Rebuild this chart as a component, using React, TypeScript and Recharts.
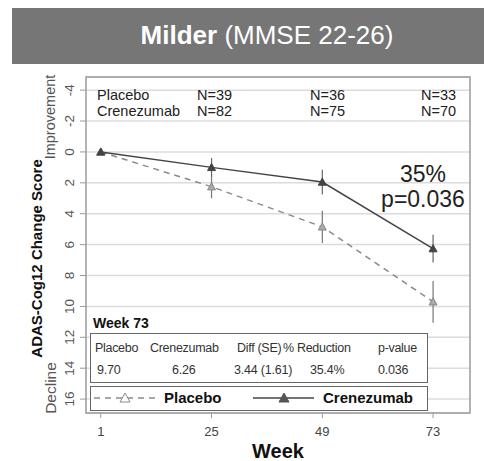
import {
  ComposedChart,
  Line,
  XAxis,
  YAxis,
  CartesianGrid,
  ErrorBar,
  ReferenceArea,
  Label,
  Legend,
} from "recharts";

const weeks = [1, 25, 49, 73];
const placeboMean = [0, 2.25, 4.85, 9.7];
const placeboSE = [0, 0.75, 1.05, 1.35];
const crenezumabMean = [0, 1.0, 1.95, 6.26];
const crenezumabSE = [0, 0.6, 0.8, 0.9];

const placeboN = ["N=39", "N=36", "N=33"];
const crenezumabN = ["N=82", "N=75", "N=70"];

const yTicks = [-4, -2, 0, 2, 4, 6, 8, 10, 12, 14, 16];
const xTicks = [1, 25, 49, 73];

const week73Header = ["Placebo", "Crenezumab", "Diff (SE)", "% Reduction", "p-value"];
const week73Values = ["9.70", "6.26", "3.44 (1.61)", "35.4%", "0.036"];

const xDomain = [-2.2, 81];
const yDomain = [-4.85, 16.9];

const data = weeks.map((w, i) => ({
  week: w,
  placebo: placeboMean[i],
  placeboErr: placeboSE[i],
  crenezumab: crenezumabMean[i],
  crenezumabErr: crenezumabSE[i],
}));

const FONT = "'Liberation Sans', Arial, sans-serif";

function Tri(props: any) {
  const { cx, cy, fill, stroke, size = 4 } = props;
  if (cx == null || cy == null) return null;
  const d = `M${cx},${cy - size} L${cx + size},${cy + size * 0.8} L${cx - size},${cy + size * 0.8} Z`;
  return <path d={d} fill={fill} stroke={stroke} strokeWidth={1} />;
}

function YTick(props: any) {
  const { x, y, payload } = props;
  const cx = x - 8;
  return (
    <text
      x={cx}
      y={y}
      transform={`rotate(-90, ${cx}, ${y})`}
      textAnchor="middle"
      dominantBaseline="central"
      fill="#555"
      fontSize={13.5}
      fontFamily={FONT}
    >
      {payload.value}
    </text>
  );
}

function YLabels(props: any) {
  const vb = props.viewBox || {};
  const top = vb.y ?? 77;
  const h = vb.height ?? 336;
  const items = [
    { text: "ADAS-Cog12 Change Score", x: 37, y: top + h * 0.54, bold: true, size: 15, color: "#111" },
    { text: "Improvement", x: 50, y: top + 40, bold: false, size: 14.5, color: "#555" },
    { text: "Decline", x: 50, y: top + 311, bold: false, size: 15.5, color: "#555" },
  ];
  return (
    <g>
      {items.map((it) => (
        <text
          key={it.text}
          x={it.x}
          y={it.y}
          transform={`rotate(-90, ${it.x}, ${it.y})`}
          textAnchor="middle"
          dominantBaseline="central"
          fontWeight={it.bold ? "bold" : "normal"}
          fontSize={it.size}
          fill={it.color}
          fontFamily={FONT}
        >
          {it.text}
        </text>
      ))}
    </g>
  );
}

function LegendBox() {
  return (
    <div
      style={{
        position: "relative",
        width: 338,
        height: 25,
        boxSizing: "border-box",
        border: "1.5px solid #666",
        background: "#fff",
        fontFamily: FONT,
      }}
    >
      <svg width={338} height={22} style={{ position: "absolute", left: 0, top: 0 }}>
        <line x1={3} x2={65} y1={11} y2={11} stroke="#8a8a8a" strokeWidth={1.5} strokeDasharray="6 5" />
        <Tri cx={34} cy={11} size={5} fill="#fff" stroke="#888" />
        <line x1={162} x2={223} y1={11} y2={11} stroke="#444" strokeWidth={1.5} />
        <Tri cx={193} cy={11} size={5} fill="#555" stroke="#555" />
      </svg>
      <span style={{ position: "absolute", left: 73, top: 2, fontSize: 15, fontWeight: "bold", color: "#111", lineHeight: "18px" }}>
        Placebo
      </span>
      <span style={{ position: "absolute", left: 232, top: 2, fontSize: 15, fontWeight: "bold", color: "#111", lineHeight: "18px" }}>
        Crenezumab
      </span>
    </div>
  );
}

export default function App() {
  const nLefts = [197, 310, 421];
  const headLefts = [95, 150, 237, 283, 378];
  const valLefts = [97, 172, 234, 310, 378];
  const txt = (left: number, cy: number, size: number, extra: any = {}) => ({
    position: "absolute" as const,
    left,
    top: cy - size * 0.6,
    fontSize: size,
    lineHeight: `${size * 1.2}px`,
    whiteSpace: "nowrap" as const,
    color: "#222",
    ...extra,
  });

  return (
    <div
      style={{
        position: "fixed",
        left: 0,
        top: 0,
        width: 484,
        height: 461,
        background: "#fff",
        fontFamily: FONT,
        overflow: "hidden",
      }}
    >
      <div
        style={{
          position: "absolute",
          left: 12,
          top: 8,
          width: 472,
          height: 56,
          background: "#767676",
          color: "#fff",
          fontSize: 26,
          lineHeight: "54px",
          textAlign: "center",
          paddingLeft: 38,
          boxSizing: "border-box",
          whiteSpace: "nowrap",
        }}
      >
        <b>Milder</b> (MMSE 22-26)
      </div>

      <div style={{ position: "absolute", left: 0, top: 0 }}>
        <ComposedChart width={484} height={461} data={data} margin={{ top: 77, right: 14, bottom: 0, left: 0 }}>
          <CartesianGrid vertical={false} stroke="#dcdcdc" strokeWidth={1.5} />
          <XAxis
            type="number"
            dataKey="week"
            domain={xDomain}
            ticks={xTicks}
            interval={0}
            height={48}
            allowDataOverflow
            axisLine={false}
            tickSize={5}
            tickMargin={9}
            tickLine={{ stroke: "#999" }}
            tick={{ fill: "#444", fontSize: 13, fontFamily: FONT }}
          />
          <YAxis
            type="number"
            reversed
            domain={yDomain}
            ticks={yTicks}
            interval={0}
            width={86}
            allowDataOverflow
            axisLine={false}
            tickSize={6}
            tickLine={{ stroke: "#999" }}
            tick={<YTick />}
          >
            <Label content={<YLabels />} />
          </YAxis>
          <ReferenceArea
            x1={xDomain[0]}
            x2={xDomain[1]}
            y1={yDomain[0]}
            y2={yDomain[1]}
            fill="none"
            fillOpacity={0}
            stroke="#9a9a9a"
            strokeWidth={1.5}
          />
          <Line
            dataKey="placebo"
            stroke="#8a8a8a"
            strokeWidth={1.5}
            strokeDasharray="6 5"
            isAnimationActive={false}
            dot={(p: any) => <Tri key={`p${p.index}`} cx={p.cx} cy={p.cy} size={4} fill="#aaa" stroke="#888" />}
            activeDot={false}
          >
            <ErrorBar dataKey="placeboErr" direction="y" width={0} stroke="#777" strokeWidth={1.2} />
          </Line>
          <Line
            dataKey="crenezumab"
            stroke="#444"
            strokeWidth={1.5}
            isAnimationActive={false}
            dot={(p: any) => <Tri key={`c${p.index}`} cx={p.cx} cy={p.cy} size={4} fill="#444" stroke="#444" />}
            activeDot={false}
          >
            <ErrorBar dataKey="crenezumabErr" direction="y" width={0} stroke="#666" strokeWidth={1.2} />
          </Line>
          <Legend
            layout="horizontal"
            verticalAlign="middle"
            align="center"
            content={() => <LegendBox />}
            wrapperStyle={{ position: "absolute", left: 90, top: 386, width: 338, height: 25 }}
          />
        </ComposedChart>
      </div>

      {/* axis title */}
      <div style={txt(278, 451, 20, { fontWeight: "bold", color: "#111", transform: "translateX(-50%)" })}>Week</div>

      {/* N per visit */}
      <div style={txt(97, 96, 14.5)}>Placebo</div>
      <div style={txt(97, 112, 14.5)}>Crenezumab</div>
      {placeboN.map((n, i) => (
        <div key={n} style={txt(nLefts[i], 96, 14.5)}>{n}</div>
      ))}
      {crenezumabN.map((n, i) => (
        <div key={n} style={txt(nLefts[i], 112, 14.5)}>{n}</div>
      ))}

      {/* effect annotation */}
      <div style={txt(423, 175, 23, { transform: "translateX(-50%)" })}>35%</div>
      <div style={txt(423, 200, 23, { transform: "translateX(-50%)" })}>p=0.036</div>

      {/* week 73 summary */}
      <div style={txt(93, 323, 14, { fontWeight: "bold", color: "#111" })}>Week 73</div>
      <div
        style={{
          position: "absolute",
          left: 90,
          top: 333,
          width: 338,
          height: 50,
          boxSizing: "border-box",
          border: "1.5px solid #666",
          background: "#fff",
        }}
      />
      {week73Header.map((h, i) => (
        <div key={h} style={txt(headLefts[i], 348, 12.5, { color: "#333", letterSpacing: -0.3 })}>{h}</div>
      ))}
      {week73Values.map((v, i) => (
        <div key={v} style={txt(valLefts[i], 370, 12.5, { color: "#333", letterSpacing: -0.2 })}>{v}</div>
      ))}
    </div>
  );
}
